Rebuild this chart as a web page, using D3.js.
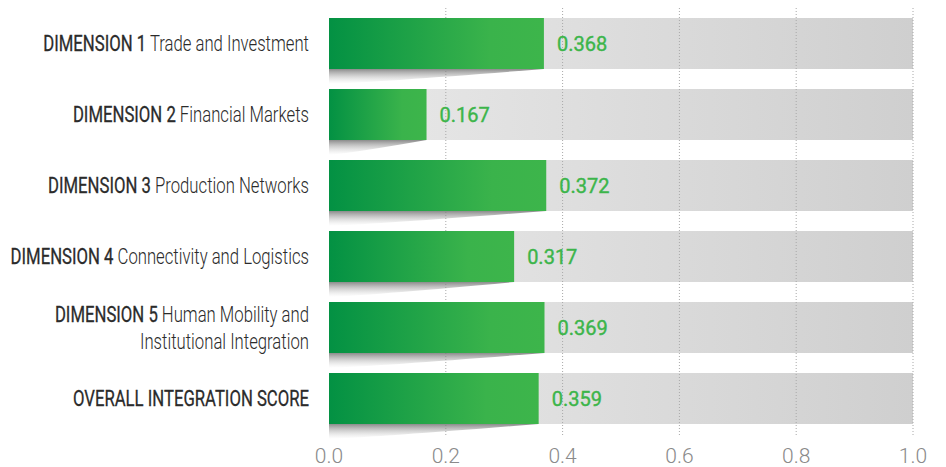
<!DOCTYPE html>
<html>
<head>
<meta charset="utf-8">
<script src="https://cdn.jsdelivr.net/npm/d3@7"></script>
<style>
  body { margin: 0; background: #fff; }
  svg { display: block; }
</style>
</head>
<body>
<div id="chart"></div>
<script>
// データ
var prefixes = ["DIMENSION 1", "DIMENSION 2", "DIMENSION 3", "DIMENSION 4", "DIMENSION 5", "OVERALL INTEGRATION SCORE"];
var names = [["Trade and Investment"], ["Financial Markets"], ["Production Networks"], ["Connectivity and Logistics"], ["Human Mobility and", "Institutional Integration"], [""]];
var values = [0.368, 0.167, 0.372, 0.317, 0.369, 0.359];
var ticks = [0, 0.2, 0.4, 0.6, 0.8, 1.0];

var width = 946, height = 467;

var svg = d3.select("#chart").append("svg")
    .attr("width", width)
    .attr("height", height);

var defs = svg.append("defs");
var g1 = defs.append("linearGradient").attr("id", "greenGrad");
g1.append("stop").attr("offset", "0%").attr("stop-color", "#039143");
g1.append("stop").attr("offset", "75%").attr("stop-color", "#3ab34b");
g1.append("stop").attr("offset", "100%").attr("stop-color", "#3db54b");
var g2 = defs.append("linearGradient").attr("id", "grayGrad");
g2.append("stop").attr("offset", "0%").attr("stop-color", "#e9e9e9");
g2.append("stop").attr("offset", "100%").attr("stop-color", "#cfcfcf");
var g3 = defs.append("linearGradient").attr("id", "shadowGrad")
    .attr("x1", 0).attr("y1", 0).attr("x2", 0).attr("y2", 1);
g3.append("stop").attr("offset", "0%").attr("stop-color", "#777").attr("stop-opacity", 0.85);
g3.append("stop").attr("offset", "100%").attr("stop-color", "#ccc").attr("stop-opacity", 0);

var xScale = d3.scaleLinear().domain([0, 1]).range([329, 913]);
var yScale = d3.scaleBand()
    .domain(d3.range(values.length))
    .range([18, 424])
    .paddingInner(20 / 71)
    .paddingOuter(0);
var bh = yScale.bandwidth();

// 背景バー
svg.append("g").selectAll("rect")
    .data(values)
    .enter()
    .append("rect")
    .attr("x", xScale(0))
    .attr("y", function(d, i){ return yScale(i); })
    .attr("width", xScale(1) - xScale(0))
    .attr("height", bh)
    .attr("fill", "url(#grayGrad)");

// グリッド線
svg.append("g").selectAll("line")
    .data(ticks.slice(1))
    .enter()
    .append("line")
    .attr("x1", function(d){ return xScale(d); })
    .attr("x2", function(d){ return xScale(d); })
    .attr("y1", 8)
    .attr("y2", 436)
    .attr("stroke", "#a8a8a8")
    .attr("stroke-width", 1)
    .attr("stroke-dasharray", "1,2");

// 影
svg.append("g").selectAll("path")
    .data(values)
    .enter()
    .append("path")
    .attr("d", function(d, i){
        var y = yScale(i) + bh, x0 = xScale(0), x1 = xScale(d);
        return "M" + x0 + "," + y + "L" + x1 + "," + y +
            "Q" + (x0 + (x1 - x0) * 0.3) + "," + (y + 12) + " " + x0 + "," + (y + 15) + "Z";
    })
    .attr("fill", "url(#shadowGrad)");

// 緑のバー
svg.append("g").selectAll("rect")
    .data(values)
    .enter()
    .append("rect")
    .attr("x", xScale(0))
    .attr("y", function(d, i){ return yScale(i); })
    .attr("width", function(d){ return xScale(d) - xScale(0); })
    .attr("height", bh)
    .attr("fill", "url(#greenGrad)");

// 値ラベル
svg.append("g").selectAll("text")
    .data(values)
    .enter()
    .append("text")
    .attr("x", function(d){ return xScale(d) + 13; })
    .attr("y", function(d, i){ return yScale(i) + bh / 2; })
    .attr("dy", "0.36em")
    .style("font-family", "Roboto")
    .style("font-weight", 400)
    .style("font-size", "20px")
    .style("fill", "#3cb54a")
    .style("stroke", "#3cb54a")
    .style("stroke-width", 0.4)
    .text(function(d){ return d3.format(".3f")(d); });

// カテゴリラベル（縦長フォントの代わりに横方向を縮める）
var labels = svg.append("g").selectAll("g")
    .data(values)
    .enter()
    .append("g")
    .attr("transform", function(d, i){
        return "translate(309," + (yScale(i) + bh / 2) + ") scale(0.76,1)";
    });

labels.each(function(d, i){
    var lines = names[i];
    var t = d3.select(this).append("text")
        .attr("text-anchor", "end")
        .style("font-family", "Roboto")
        .style("font-size", "22px")
        .style("fill", "#2b2b2b");
    var off = (lines.length - 1) * -13.5;
    lines.forEach(function(line, k){
        var y = off + k * 27;
        if (k === 0) {
            t.append("tspan").attr("x", 0).attr("y", y).attr("dy", "0.36em")
                .style("font-weight", 400)
                .style("stroke", "#2b2b2b")
                .style("stroke-width", 0.3)
                .text(prefixes[i]);
            if (line) {
                t.append("tspan").style("font-weight", 300).style("stroke", "none").text(" " + line);
            }
        } else {
            t.append("tspan").attr("x", 0).attr("y", y).attr("dy", "0.36em")
                .style("font-weight", 300)
                .text(line);
        }
    });
});

// x軸ラベル
svg.append("g").selectAll("text")
    .data(ticks)
    .enter()
    .append("text")
    .attr("x", function(d){ return xScale(d); })
    .attr("y", 455)
    .attr("dy", "0.36em")
    .attr("text-anchor", "middle")
    .style("font-family", "Roboto")
    .style("font-weight", 300)
    .style("font-size", "21px")
    .style("fill", "#8a8a8a")
    .text(function(d){ return d3.format(".1f")(d); });
</script>
</body>
</html>
